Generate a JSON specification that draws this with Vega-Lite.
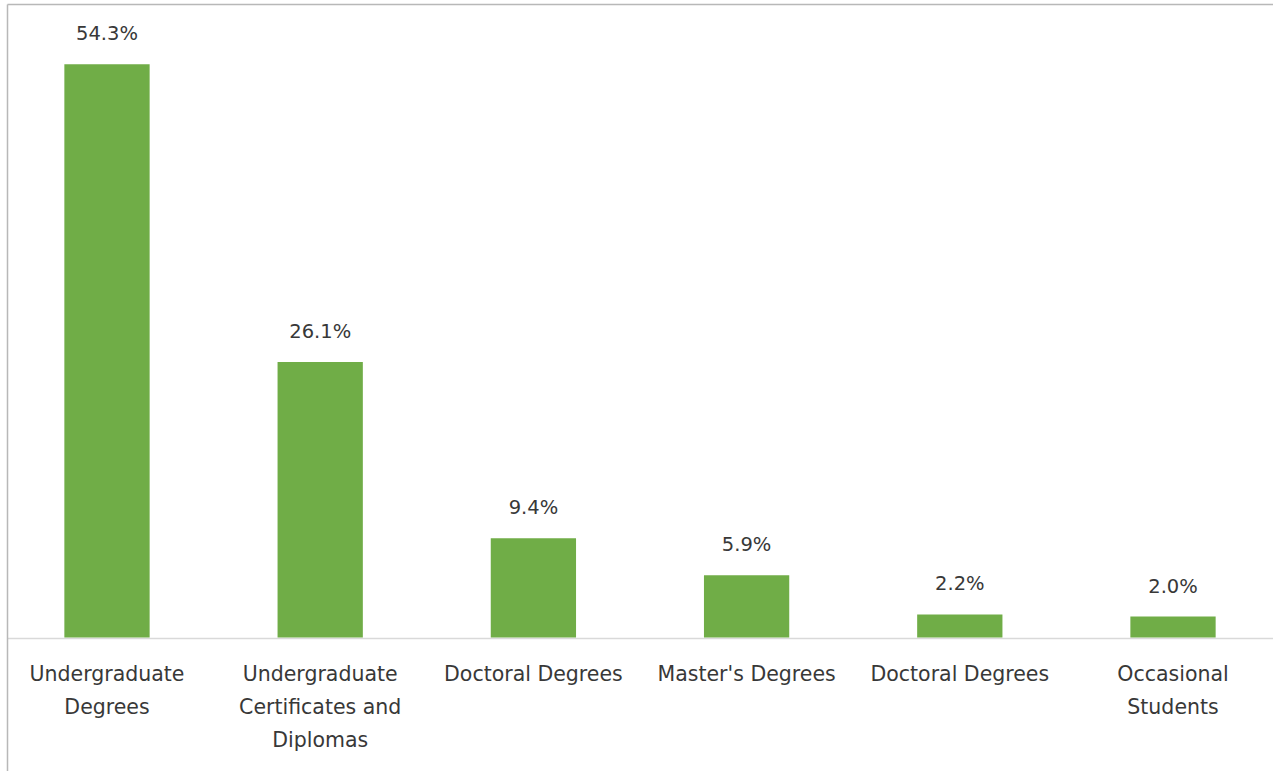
{
  "$schema": "https://vega.github.io/schema/vega-lite/v6.json",
  "width": 1266,
  "height": 767,
  "autosize": {"type": "none"},
  "padding": {"left": 7, "top": 4, "right": 0, "bottom": 0},
  "background": "white",
  "config": {"view": {"stroke": null}, "font": "DejaVu Sans"},
  "data": {
    "values": [
      {"category": "Undergraduate\nDegrees", "share": 0.543},
      {"category": "Undergraduate\nCertificates and\nDiplomas", "share": 0.261},
      {"category": "Doctoral Degrees", "share": 0.094},
      {"category": "Master's Degrees", "share": 0.059},
      {"category": "Doctoral Degrees\u200b", "share": 0.022},
      {"category": "Occasional\nStudents", "share": 0.020}
    ]
  },
  "encoding": {
    "x": {
      "field": "category",
      "type": "nominal",
      "sort": null,
      "scale": {"paddingInner": 0.6, "paddingOuter": 0.269},
      "axis": {
        "title": null,
        "labelAngle": 0,
        "ticks": false,
        "domainColor": "#d9d9d9",
        "domainWidth": 1.5,
        "labelExpr": "split(datum.value, '\\n')",
        "labelFont": "DejaVu Sans",
        "labelFontSize": 20.5,
        "labelColor": "#383838",
        "labelPadding": 26,
        "labelLineHeight": 33,
        "labelBaseline": "top",
        "labelLimit": 0,
        "labelOverlap": false,
        "labelFlush": false,
        "offset": -133
      }
    },
    "y": {
      "field": "share",
      "type": "quantitative",
      "scale": {"domain": [-0.1263, 0.6], "nice": false, "zero": false},
      "axis": {
        "title": null,
        "labels": false,
        "ticks": false,
        "values": [0.6],
        "grid": true,
        "gridColor": "#b8b8b8",
        "gridWidth": 1.5,
        "domainColor": "#b8b8b8",
        "domainWidth": 1.5
      }
    }
  },
  "layer": [
    {"mark": {"type": "bar", "color": "#70AD47"}},
    {
      "mark": {"type": "text", "dy": -24, "baseline": "alphabetic", "font": "DejaVu Sans", "fontSize": 19.5, "color": "#383838"},
      "encoding": {"text": {"field": "share", "type": "quantitative", "format": ".1%"}}
    }
  ]
}
